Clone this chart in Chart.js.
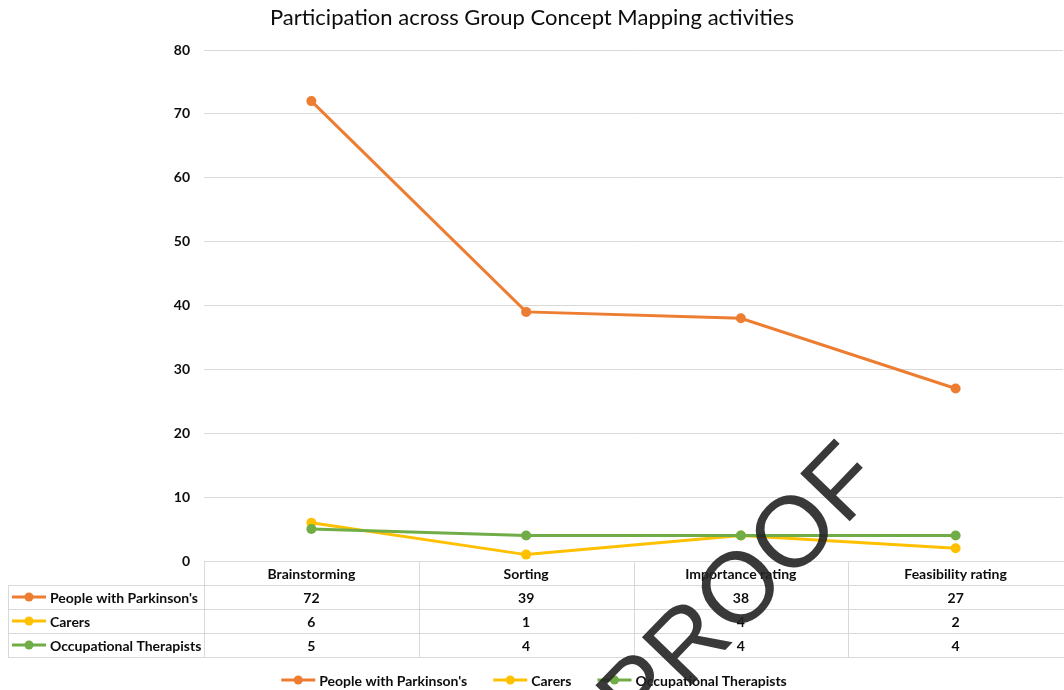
<!DOCTYPE html>
<html>
<head>
<meta charset="utf-8">
<script src="https://cdn.jsdelivr.net/npm/chart.js@4.4.1/dist/chart.umd.min.js"></script>
<style>
    html, body { margin: 0; padding: 0; background: #fff; overflow: hidden; }
    #wrap { width: 1068px; height: 690px; }
</style>
</head>
<body>
<div id="wrap"><canvas id="gcmChart" width="1068" height="690"></canvas></div>
<script>
// Data
const activities = ["Brainstorming", "Sorting", "Importance rating", "Feasibility rating"];
const seriesNames = ["People with Parkinson's", "Carers", "Occupational Therapists"];
const parkinsonsValues = [72, 39, 38, 27];
const carersValues = [6, 1, 4, 2];
const therapistsValues = [5, 4, 4, 4];
const yAxisTicks = { min: 0, max: 80, step: 10 };

const seriesColors = ["#ED7D31", "#FFC000", "#70AD47"];
const FONT = "Lato, 'Open Sans', sans-serif";
const TEXT = "#0d0d0d";
const GRID = "#d9d9d9";

function makeDataset(label, data, color, order) {
    return {
        label: label,
        data: data,
        borderColor: color,
        backgroundColor: color,
        borderWidth: 3,
        pointRadius: 5,
        pointHoverRadius: 5,
        pointBorderWidth: 0,
        pointBackgroundColor: color,
        tension: 0,
        order: order,
    };
}

function drawMarker(ctx, x, y, color) {
    ctx.strokeStyle = color;
    ctx.lineWidth = 3;
    ctx.beginPath();
    ctx.moveTo(x, y);
    ctx.lineTo(x + 34, y);
    ctx.stroke();
    ctx.fillStyle = color;
    ctx.beginPath();
    ctx.arc(x + 17, y, 4.5, 0, Math.PI * 2);
    ctx.fill();
}

// Data table under the plot, laid out on the x scale
const dataTable = {
    id: "dataTable",
    afterDraw(chart) {
        const ctx = chart.ctx;
        const xScale = chart.scales.x;
        const area = chart.chartArea;
        const rowH = 24;
        const top = area.bottom;
        const step = xScale.getPixelForValue(1) - xScale.getPixelForValue(0);
        const rowsData = chart.data.datasets.map((d) => d.data);

        ctx.save();
        ctx.strokeStyle = GRID;
        ctx.lineWidth = 1;
        ctx.beginPath();
        ctx.moveTo(area.left, top + 0.5);
        ctx.lineTo(chart.width, top + 0.5);
        for (let r = 1; r <= rowsData.length + 1; r++) {
            const y = Math.round(top + r * rowH) + 0.5;
            ctx.moveTo(8, y);
            ctx.lineTo(chart.width, y);
        }
        ctx.moveTo(8.5, top + rowH);
        ctx.lineTo(8.5, top + rowH * (rowsData.length + 1));
        activities.forEach((_, i) => {
            const x = Math.round(xScale.getPixelForValue(i) - step / 2) + 0.5;
            ctx.moveTo(x, top);
            ctx.lineTo(x, top + rowH * (rowsData.length + 1));
        });
        ctx.stroke();

        ctx.fillStyle = TEXT;
        ctx.font = "bold 14px " + FONT;
        ctx.textBaseline = "middle";
        ctx.textAlign = "center";
        activities.forEach((a, i) => {
            ctx.fillText(a, xScale.getPixelForValue(i), top + rowH / 2 + 1);
        });

        rowsData.forEach((vals, r) => {
            const y = top + rowH * (r + 1) + rowH / 2;
            drawMarker(ctx, 12, y, seriesColors[r]);
            ctx.fillStyle = TEXT;
            ctx.textAlign = "left";
            ctx.fillText(seriesNames[r], 50, y + 1);
            ctx.textAlign = "center";
            vals.forEach((v, i) => {
                ctx.fillText(String(v), xScale.getPixelForValue(i), y + 1);
            });
        });

        // Legend
        ctx.font = "bold 14px " + FONT;
        const gap = 26;
        const widths = seriesNames.map((n) => 38 + ctx.measureText(n).width);
        const total = widths.reduce((a, b) => a + b, 0) + gap * (widths.length - 1);
        let lx = 534 - total / 2;
        const ly = 680;
        seriesNames.forEach((n, i) => {
            drawMarker(ctx, lx, ly, seriesColors[i]);
            ctx.fillStyle = TEXT;
            ctx.textAlign = "left";
            ctx.fillText(n, lx + 38, ly + 1);
            lx += widths[i] + gap;
        });

        // Title
        ctx.font = "22px " + FONT;
        ctx.textAlign = "center";
        ctx.fillText("Participation across Group Concept Mapping activities", 532, 18);

        // Watermark
        ctx.translate(743, 592);
        ctx.rotate((-46 * Math.PI) / 180);
        ctx.font = "100px 'Liberation Sans', Arial, sans-serif";
        ctx.fillStyle = "rgba(35,35,35,0.9)";
        ctx.textAlign = "center";
        ctx.textBaseline = "middle";
        ctx.fillText("PROOF", 0, 0);
        ctx.restore();
    },
};

new Chart(document.getElementById("gcmChart").getContext("2d"), {
    type: "line",

    data: {
        labels: activities,

        datasets: [
            makeDataset(seriesNames[0], parkinsonsValues, seriesColors[0], 2),
            makeDataset(seriesNames[1], carersValues, seriesColors[1], 1),
            makeDataset(seriesNames[2], therapistsValues, seriesColors[2], 0),
        ],
    },

    options: {
        responsive: false,
        animation: false,
        events: [],

        layout: {
            padding: { top: 50, bottom: 129, left: 0, right: 0 },
        },

        scales: {
            x: {
                display: false,
                offset: true,
            },

            y: {
                min: yAxisTicks.min,
                max: yAxisTicks.max,
                ticks: {
                    stepSize: yAxisTicks.step,
                    color: TEXT,
                    padding: 14,
                    font: { family: FONT, size: 14, weight: "bold" },
                },
                grid: {
                    color: GRID,
                    lineWidth: 1,
                    drawTicks: false,
                },
                border: { display: false },
                afterFit(scale) {
                    scale.width = 204;
                },
            },
        },

        plugins: {
            legend: { display: false },
            title: { display: false },
            tooltip: { enabled: false },
        },
    },

    plugins: [dataTable],
});
</script>
</body>
</html>
